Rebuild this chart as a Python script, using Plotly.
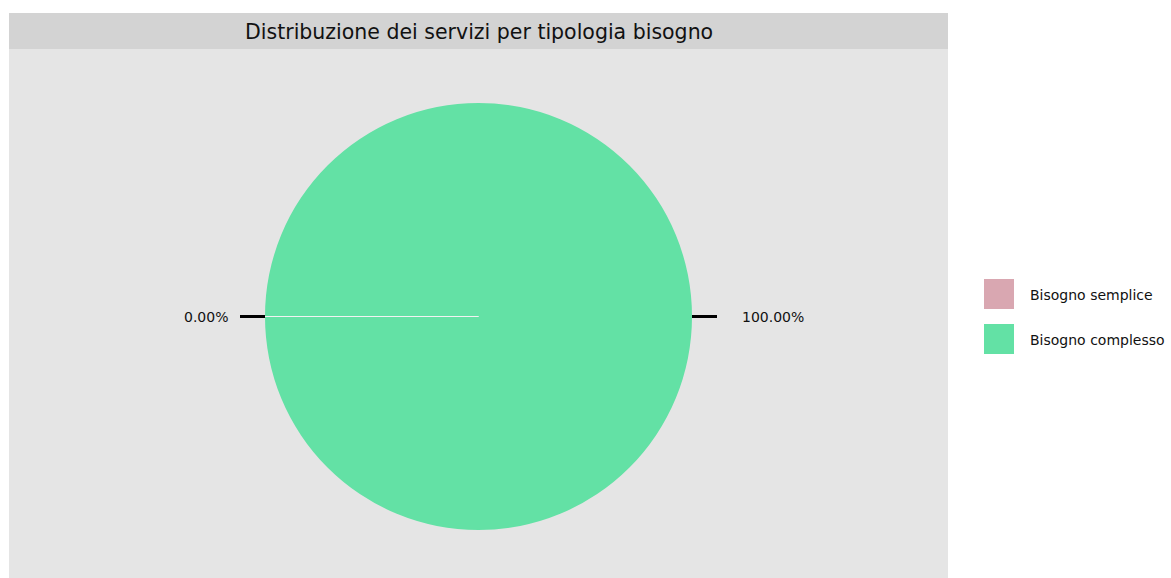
import math
import plotly.graph_objects as go

# ---- data ----
categories = ["Bisogno semplice", "Bisogno complesso"]
values = [0, 100]
slice_colors = ["#D9A7B1", "#63E1A5"]
title_text = "Distribuzione dei servizi per tipologia bisogno"

# ---- layout geometry (pixels) ----
W, H = 1171, 578
PL, PR, PT, PB = 9, 948, 49, 578        # panel edges
STRIP_TOP = 13
CX, CY, R = 478.5, 316.5, 213.5          # pie centre / radius
TICK_LEN = 25
FONT = "DejaVu Sans"

pw, ph = PR - PL, PB - PT


def px_to_paper_x(px):
    return (px - PL) / pw


def px_to_paper_y(py):
    return (PB - py) / ph


total = sum(values)
fracs = [v / total for v in values]
starts, mids = [], []
acc = 0.0
for f in fracs:
    starts.append(acc)
    mids.append(acc + f / 2)
    acc += f


def angle_of(f):
    # start at 9 o'clock, clockwise
    return math.pi - 2 * math.pi * f


fig = go.Figure()

# pie
fig.add_trace(go.Pie(
    labels=categories, values=values, sort=False, direction="clockwise",
    rotation=-90, marker=dict(colors=slice_colors, line=dict(width=0)),
    textinfo="none", hoverinfo="label+percent", showlegend=False,
    domain=dict(x=[px_to_paper_x(CX - R), px_to_paper_x(CX + R)],
                y=[px_to_paper_y(CY + R), px_to_paper_y(CY - R)]),
))

# axis ticks at slice midpoints (in units of radius)
r1 = 1 + TICK_LEN / R
tx, ty = [], []
for m in mids:
    a = angle_of(m)
    tx += [math.cos(a), r1 * math.cos(a), None]
    ty += [math.sin(a), r1 * math.sin(a), None]
fig.add_trace(go.Scatter(x=tx, y=ty, mode="lines",
                         line=dict(color="#000000", width=3),
                         hoverinfo="skip", showlegend=False))

annotations = []
for v, m in zip(values, mids):
    a = angle_of(m)
    left = math.cos(a) < 0
    annotations.append(dict(
        x=r1 * math.cos(a), y=r1 * math.sin(a), xref="x", yref="y",
        text=f"{100 * v / total:.2f}%", showarrow=False,
        xanchor="right" if left else "left", yanchor="middle",
        xshift=-10 if left else 23, yshift=0,
        font=dict(family=FONT, size=14, color="#111111")))

shapes = []
# white slice borders (drawn above pie)
for s in starts:
    a = angle_of(s)
    shapes.append(dict(type="line", xref="x", yref="y", layer="above",
                       x0=0, y0=0, x1=math.cos(a), y1=math.sin(a),
                       line=dict(color="#F2F2F2", width=1.2)))

# title strip
shapes.append(dict(type="rect", xref="paper", yref="paper", layer="below",
                   x0=0, x1=1, y0=1, y1=px_to_paper_y(STRIP_TOP),
                   fillcolor="#D3D3D3", line=dict(width=0)))
annotations.append(dict(x=0.5, y=px_to_paper_y((STRIP_TOP + PT) / 2 + 1),
                        xref="paper", yref="paper", text=title_text,
                        showarrow=False, xanchor="center", yanchor="middle",
                        font=dict(family=FONT, size=20.5, color="#111111")))

# legend (custom, large swatches)
LEG_X, LEG_Y0, SW, STEP = 984, 279, 30, 45
for i, (cat, col) in enumerate(zip(categories, slice_colors)):
    y0 = LEG_Y0 + i * STEP
    shapes.append(dict(type="rect", xref="paper", yref="paper",
                       x0=px_to_paper_x(LEG_X), x1=px_to_paper_x(LEG_X + SW),
                       y0=px_to_paper_y(y0 + SW), y1=px_to_paper_y(y0),
                       fillcolor=col, line=dict(width=0)))
    annotations.append(dict(x=px_to_paper_x(LEG_X + SW + 14),
                            y=px_to_paper_y(y0 + SW / 2 + 1),
                            xref="paper", yref="paper", text=cat,
                            showarrow=False, xanchor="left", yanchor="middle",
                            font=dict(family=FONT, size=14, color="#111111")))

fig.update_layout(
    width=W, height=H,
    margin=dict(l=PL, r=W - PR, t=PT, b=H - PB, pad=0),
    paper_bgcolor="#FFFFFF", plot_bgcolor="#E5E5E5",
    xaxis=dict(range=[(PL - CX) / R, (PR - CX) / R], visible=False,
               showgrid=False, zeroline=False, fixedrange=True),
    yaxis=dict(range=[(CY - PB) / R, (CY - PT) / R], visible=False,
               showgrid=False, zeroline=False, fixedrange=True),
    shapes=shapes, annotations=annotations, showlegend=False,
)

fig.write_html("out.html", config={"displayModeBar": False},
               post_script="document.body.style.margin='0';"
                           "document.body.style.overflow='hidden';")
